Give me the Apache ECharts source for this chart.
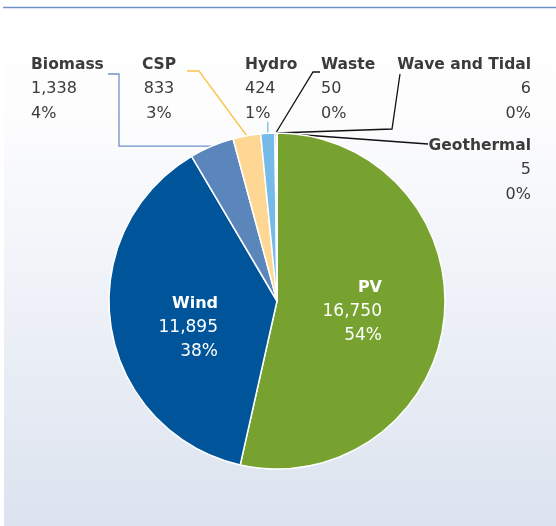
<!DOCTYPE html>
<html>
<head>
<meta charset="utf-8">
<style>html,body{margin:0;padding:0;background:#fff;}#c{width:556px;height:526px;}</style>
<script src="https://cdn.jsdelivr.net/npm/echarts@6/dist/echarts.min.js"></script>
</head>
<body>
<div id="c"></div>
<script>
// ---- data ----
var categories = ['PV', 'Wind', 'Biomass', 'CSP', 'Hydro', 'Waste', 'Wave and Tidal', 'Geothermal'];
var values = [16750, 11895, 1338, 833, 424, 50, 6, 5];

// ---- styles ----
var sliceColors = ['#78a22f', '#00549a', '#5a86bc', '#fed794', '#76bbe7', '#3a3a3a', '#3a3a3a', '#3a3a3a'];
var lineColors = [null, null, '#6e93c6', '#f8c448', '#76bbe7', '#111111', '#111111', '#111111'];
// label placement: [x, y(middle line), align, extra guide points (from label back to slice)]
var labelPlaces = [
  {x: 382, y: 312, align: 'right', inside: true},
  {x: 218, y: 328, align: 'right', inside: true},
  {x: 31, y: 89, align: 'left', pts: function (p) { return [p, [119, p[1]], [119, 74], [108, 74]]; }},
  {x: 159, y: 89, align: 'center', pts: function (p) { return [p, [199, 71], [187, 71]]; }},
  {x: 245, y: 89, align: 'left', pts: function (p) { return [p, [p[0], 122]]; }},
  {x: 321, y: 89, align: 'left', pts: function (p) { return [p, [313, 72], [320, 72]]; }},
  {x: 531, y: 89, align: 'right', pts: function (p) { return [p, [392, 129], [400, 74]]; }},
  {x: 531, y: 170, align: 'right', pts: function (p) { return [p, [428, 144]]; }}
];

function fmt(v) { return String(v).replace(/\B(?=(\d{3})+(?!\d))/g, ','); }

var seriesData = categories.map(function (name, i) {
  var inside = !!labelPlaces[i].inside;
  return {
    name: name,
    value: values[i],
    itemStyle: {color: sliceColors[i]},
    label: {position: inside ? 'inside' : 'outside'},
    labelLine: inside ? {show: false} : {show: true, lineStyle: {color: lineColors[i], width: 1.3}}
  };
});

var chart = echarts.init(document.getElementById('c'), null, {renderer: 'canvas'});
chart.setOption({
  backgroundColor: '#ffffff',
  animation: false,
  graphic: [
    {type: 'rect', z: 0, silent: true, shape: {x: 4, y: 8, width: 552, height: 518},
      style: {fill: new echarts.graphic.LinearGradient(0, 0, 0, 1, [
        {offset: 0, color: '#ffffff'}, {offset: 0.2, color: '#fdfdfe'}, {offset: 1, color: '#dce3ef'}])}},
    {type: 'line', z: 1, silent: true, shape: {x1: 3, y1: 7.5, x2: 556, y2: 7.5},
      style: {stroke: '#7193c4', lineWidth: 1.5}}
  ],
  series: [{
    type: 'pie',
    z: 2,
    center: [277, 301],
    radius: [0, 168],
    startAngle: 90,
    clockwise: true,
    avoidLabelOverlap: false,
    minShowLabelAngle: 0,
    itemStyle: {borderColor: '#ffffff', borderWidth: 1.5},
    emphasis: {disabled: true},
    label: {
      show: true,
      formatter: function (p) {
        var inside = !!labelPlaces[p.dataIndex].inside;
        var pfx = inside ? 'i' : 'o';
        return '{' + pfx + 'b|' + p.name + '}\n{' + pfx + 'v|' + fmt(p.value) + '}\n{' + pfx + 'v|' + Math.round(p.percent) + '%}';
      },
      rich: {
        ob: {fontFamily: 'DejaVu Sans', fontWeight: 'bold', fontSize: 15.5, color: '#3b3b3b', lineHeight: 24.5},
        ov: {fontFamily: 'DejaVu Sans', fontSize: 16, color: '#3b3b3b', lineHeight: 24.5},
        ib: {fontFamily: 'DejaVu Sans', fontWeight: 'bold', fontSize: 16, color: '#ffffff', lineHeight: 24},
        iv: {fontFamily: 'DejaVu Sans', fontSize: 17, color: '#ffffff', lineHeight: 24}
      }
    },
    labelLine: {show: true, length: 10, length2: 10},
    labelLayout: function (params) {
      var lp = labelPlaces[params.dataIndex];
      var out = {x: lp.x, y: lp.y, align: lp.align, verticalAlign: 'middle'};
      if (!lp.inside && params.labelLinePoints && params.labelLinePoints[0]) {
        var p0 = [params.labelLinePoints[0][0], params.labelLinePoints[0][1]];
        out.labelLinePoints = lp.pts(p0);
      }
      return out;
    },
    data: seriesData
  }]
});
</script>
</body>
</html>
